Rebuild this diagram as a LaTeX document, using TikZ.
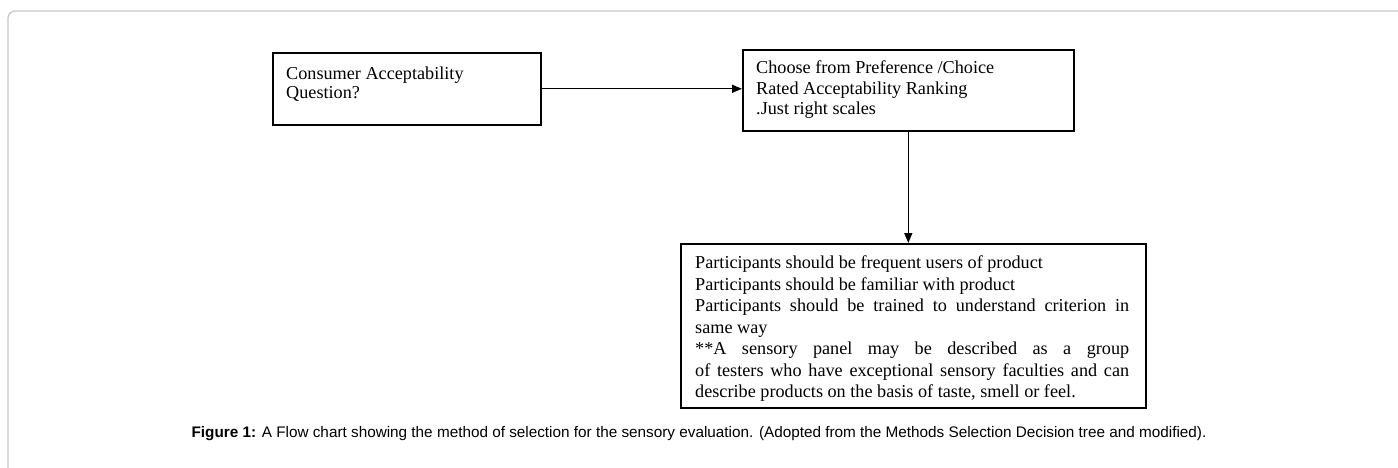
\documentclass[tikz,border=0pt]{standalone}
\usepackage{fontspec}
\setmainfont{Liberation Serif}
\newfontfamily\capfont{Liberation Sans}
\usetikzlibrary{arrows.meta}
\begin{document}
\begin{tikzpicture}[x=1pt,y=-1pt,
  box/.style={draw=black, line width=1.6pt, anchor=north west, inner sep=0pt},
  txt/.style={anchor=north west, inner sep=0pt, font=\fontsize{18.2pt}{20.5pt}\selectfont, align=left},
  conn/.style={draw=black, line width=1.4pt, -{Triangle[length=10pt,width=8pt]}},
  frame/.style={draw=black!22, line width=1.3pt, rounded corners=7pt}]
\useasboundingbox (0,0) rectangle (1398,468);
\fill[white] (0,0) rectangle (1398,468);
\draw[frame] (1400,11) -- (8,11) -- (8,470);

\node[box, minimum width=268pt, minimum height=72pt] (q) at (272,52) {};
\node[txt, font=\fontsize{18.2pt}{19pt}\selectfont] (qt) at ([shift={(14,14.5)}]q.north west)
  {Consumer Acceptability\\Question?};

\node[box, minimum width=331pt, minimum height=81pt] (c) at (742,49) {};
\node[txt] (ct) at ([shift={(14,11.5)}]c.north west)
  {Choose from Preference /Choice\\Rated Acceptability Ranking\\.Just right scales};

\node[box, minimum width=465pt, minimum height=164pt] (p) at (680,243) {};
\node[anchor=north west, inner sep=0pt, text width=434pt, align=justify,
      font=\fontsize{18.2pt}{21.5pt}\selectfont] (pt) at ([shift={(15,12.5)}]p.north west)
  {\hyphenpenalty=10000\parindent=0pt
   Participants should be frequent users of product\par
   Participants should be familiar with product\par
   Participants should be trained to understand criterion in\linebreak same way\par
   **A sensory panel may be described as a group\linebreak of testers who have exceptional sensory faculties and can\linebreak describe products on the basis of taste, smell or feel.\par};

\draw[conn] (q.east) -- (q.east -| c.west);
\draw[conn] (c.south) -- (c.south |- p.north);

\node[anchor=base, inner sep=0pt, font=\capfont\fontsize{15.3pt}{18pt}\selectfont] (cap) at (699,437)
  {\textbf{Figure 1:} A Flow chart showing the method of selection for the sensory evaluation. (Adopted from the Methods Selection Decision tree and modified).};
\end{tikzpicture}
\end{document}
